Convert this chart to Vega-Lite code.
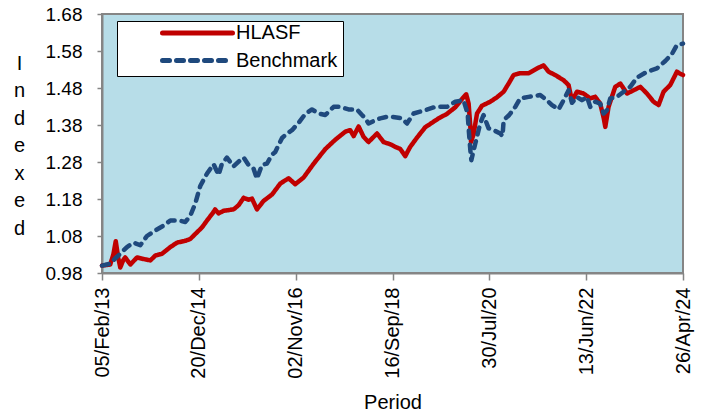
{
  "$schema": "https://vega.github.io/schema/vega-lite/v6.json",
  "width": 581,
  "height": 259,
  "autosize": {"type": "none"},
  "padding": {"left": 102, "top": 14, "right": 23, "bottom": 139},
  "background": "white",
  "config": {
    "font": "Liberation Sans",
    "view": {"fill": "#B7DDE8", "stroke": "#858585", "strokeWidth": 2},
    "axis": {"domainColor": "#858585", "domainWidth": 2, "tickColor": "#858585", "tickWidth": 1.5, "labelColor": "#000000", "titleColor": "#000000", "grid": false, "titleFontWeight": "normal"}
  },
  "data": {
    "values": [
      {"date": "2013-02-05", "series": "HLASF", "value": 1.000},
      {"date": "2013-04-04", "series": "HLASF", "value": 1.003},
      {"date": "2013-04-26", "series": "HLASF", "value": 1.030},
      {"date": "2013-05-13", "series": "HLASF", "value": 1.066},
      {"date": "2013-05-31", "series": "HLASF", "value": 1.020},
      {"date": "2013-06-14", "series": "HLASF", "value": 0.995},
      {"date": "2013-07-05", "series": "HLASF", "value": 1.015},
      {"date": "2013-07-19", "series": "HLASF", "value": 1.022},
      {"date": "2013-08-24", "series": "HLASF", "value": 1.003},
      {"date": "2013-10-10", "series": "HLASF", "value": 1.022},
      {"date": "2013-11-23", "series": "HLASF", "value": 1.018},
      {"date": "2014-01-12", "series": "HLASF", "value": 1.014},
      {"date": "2014-02-16", "series": "HLASF", "value": 1.027},
      {"date": "2014-04-04", "series": "HLASF", "value": 1.032},
      {"date": "2014-06-02", "series": "HLASF", "value": 1.050},
      {"date": "2014-07-19", "series": "HLASF", "value": 1.062},
      {"date": "2014-09-16", "series": "HLASF", "value": 1.067},
      {"date": "2014-10-21", "series": "HLASF", "value": 1.072},
      {"date": "2014-12-07", "series": "HLASF", "value": 1.090},
      {"date": "2015-01-11", "series": "HLASF", "value": 1.103},
      {"date": "2015-02-16", "series": "HLASF", "value": 1.122},
      {"date": "2015-04-03", "series": "HLASF", "value": 1.145},
      {"date": "2015-04-14", "series": "HLASF", "value": 1.152},
      {"date": "2015-05-08", "series": "HLASF", "value": 1.141},
      {"date": "2015-06-12", "series": "HLASF", "value": 1.148},
      {"date": "2015-08-22", "series": "HLASF", "value": 1.152},
      {"date": "2015-09-26", "series": "HLASF", "value": 1.163},
      {"date": "2015-11-01", "series": "HLASF", "value": 1.183},
      {"date": "2015-12-06", "series": "HLASF", "value": 1.178},
      {"date": "2015-12-30", "series": "HLASF", "value": 1.181},
      {"date": "2016-02-03", "series": "HLASF", "value": 1.152},
      {"date": "2016-03-21", "series": "HLASF", "value": 1.175},
      {"date": "2016-05-19", "series": "HLASF", "value": 1.192},
      {"date": "2016-07-17", "series": "HLASF", "value": 1.222},
      {"date": "2016-09-13", "series": "HLASF", "value": 1.236},
      {"date": "2016-10-30", "series": "HLASF", "value": 1.220},
      {"date": "2016-12-28", "series": "HLASF", "value": 1.238},
      {"date": "2017-03-08", "series": "HLASF", "value": 1.275},
      {"date": "2017-05-30", "series": "HLASF", "value": 1.315},
      {"date": "2017-08-08", "series": "HLASF", "value": 1.340},
      {"date": "2017-10-18", "series": "HLASF", "value": 1.362},
      {"date": "2017-11-22", "series": "HLASF", "value": 1.366},
      {"date": "2017-12-16", "series": "HLASF", "value": 1.350},
      {"date": "2018-01-20", "series": "HLASF", "value": 1.376},
      {"date": "2018-02-24", "series": "HLASF", "value": 1.348},
      {"date": "2018-03-31", "series": "HLASF", "value": 1.334},
      {"date": "2018-05-30", "series": "HLASF", "value": 1.357},
      {"date": "2018-07-15", "series": "HLASF", "value": 1.334},
      {"date": "2018-08-31", "series": "HLASF", "value": 1.328},
      {"date": "2018-10-06", "series": "HLASF", "value": 1.321},
      {"date": "2018-11-10", "series": "HLASF", "value": 1.315},
      {"date": "2018-12-15", "series": "HLASF", "value": 1.296},
      {"date": "2019-01-19", "series": "HLASF", "value": 1.321},
      {"date": "2019-03-08", "series": "HLASF", "value": 1.346},
      {"date": "2019-05-05", "series": "HLASF", "value": 1.374},
      {"date": "2019-07-03", "series": "HLASF", "value": 1.389},
      {"date": "2019-08-07", "series": "HLASF", "value": 1.398},
      {"date": "2019-10-05", "series": "HLASF", "value": 1.410},
      {"date": "2019-12-03", "series": "HLASF", "value": 1.428},
      {"date": "2020-01-19", "series": "HLASF", "value": 1.450},
      {"date": "2020-02-18", "series": "HLASF", "value": 1.463},
      {"date": "2020-03-06", "series": "HLASF", "value": 1.438},
      {"date": "2020-03-18", "series": "HLASF", "value": 1.375},
      {"date": "2020-03-23", "series": "HLASF", "value": 1.334},
      {"date": "2020-04-10", "series": "HLASF", "value": 1.355},
      {"date": "2020-05-04", "series": "HLASF", "value": 1.411},
      {"date": "2020-06-08", "series": "HLASF", "value": 1.432},
      {"date": "2020-08-06", "series": "HLASF", "value": 1.443},
      {"date": "2020-09-22", "series": "HLASF", "value": 1.455},
      {"date": "2020-11-08", "series": "HLASF", "value": 1.470},
      {"date": "2020-12-13", "series": "HLASF", "value": 1.492},
      {"date": "2021-01-17", "series": "HLASF", "value": 1.515},
      {"date": "2021-03-05", "series": "HLASF", "value": 1.520},
      {"date": "2021-05-03", "series": "HLASF", "value": 1.520},
      {"date": "2021-07-12", "series": "HLASF", "value": 1.535},
      {"date": "2021-08-17", "series": "HLASF", "value": 1.541},
      {"date": "2021-09-21", "series": "HLASF", "value": 1.524},
      {"date": "2021-11-07", "series": "HLASF", "value": 1.515},
      {"date": "2022-01-05", "series": "HLASF", "value": 1.501},
      {"date": "2022-02-09", "series": "HLASF", "value": 1.488},
      {"date": "2022-03-05", "series": "HLASF", "value": 1.445},
      {"date": "2022-04-09", "series": "HLASF", "value": 1.470},
      {"date": "2022-05-26", "series": "HLASF", "value": 1.465},
      {"date": "2022-07-12", "series": "HLASF", "value": 1.452},
      {"date": "2022-08-16", "series": "HLASF", "value": 1.456},
      {"date": "2022-09-20", "series": "HLASF", "value": 1.438},
      {"date": "2022-10-14", "series": "HLASF", "value": 1.400},
      {"date": "2022-10-26", "series": "HLASF", "value": 1.375},
      {"date": "2022-11-18", "series": "HLASF", "value": 1.429},
      {"date": "2023-01-04", "series": "HLASF", "value": 1.483},
      {"date": "2023-02-09", "series": "HLASF", "value": 1.492},
      {"date": "2023-03-28", "series": "HLASF", "value": 1.465},
      {"date": "2023-05-14", "series": "HLASF", "value": 1.474},
      {"date": "2023-06-30", "series": "HLASF", "value": 1.483},
      {"date": "2023-08-16", "series": "HLASF", "value": 1.465},
      {"date": "2023-10-01", "series": "HLASF", "value": 1.443},
      {"date": "2023-11-06", "series": "HLASF", "value": 1.434},
      {"date": "2023-12-11", "series": "HLASF", "value": 1.470},
      {"date": "2024-01-27", "series": "HLASF", "value": 1.488},
      {"date": "2024-03-14", "series": "HLASF", "value": 1.524},
      {"date": "2024-03-30", "series": "HLASF", "value": 1.520},
      {"date": "2024-04-26", "series": "HLASF", "value": 1.515},
      {"date": "2013-02-05", "series": "Benchmark", "value": 1.000},
      {"date": "2013-04-04", "series": "Benchmark", "value": 1.005},
      {"date": "2013-05-10", "series": "Benchmark", "value": 1.020},
      {"date": "2013-06-14", "series": "Benchmark", "value": 1.032},
      {"date": "2013-07-31", "series": "Benchmark", "value": 1.050},
      {"date": "2013-09-16", "series": "Benchmark", "value": 1.062},
      {"date": "2013-11-02", "series": "Benchmark", "value": 1.055},
      {"date": "2013-12-19", "series": "Benchmark", "value": 1.080},
      {"date": "2014-02-16", "series": "Benchmark", "value": 1.095},
      {"date": "2014-04-15", "series": "Benchmark", "value": 1.108},
      {"date": "2014-06-02", "series": "Benchmark", "value": 1.122},
      {"date": "2014-07-30", "series": "Benchmark", "value": 1.122},
      {"date": "2014-09-16", "series": "Benchmark", "value": 1.118},
      {"date": "2014-10-21", "series": "Benchmark", "value": 1.135},
      {"date": "2014-11-25", "series": "Benchmark", "value": 1.168},
      {"date": "2014-12-30", "series": "Benchmark", "value": 1.215},
      {"date": "2015-02-16", "series": "Benchmark", "value": 1.249},
      {"date": "2015-04-03", "series": "Benchmark", "value": 1.274},
      {"date": "2015-05-08", "series": "Benchmark", "value": 1.245},
      {"date": "2015-05-31", "series": "Benchmark", "value": 1.274},
      {"date": "2015-07-06", "series": "Benchmark", "value": 1.292},
      {"date": "2015-08-22", "series": "Benchmark", "value": 1.268},
      {"date": "2015-10-08", "series": "Benchmark", "value": 1.285},
      {"date": "2015-11-01", "series": "Benchmark", "value": 1.292},
      {"date": "2015-12-06", "series": "Benchmark", "value": 1.272},
      {"date": "2016-01-10", "series": "Benchmark", "value": 1.262},
      {"date": "2016-02-03", "series": "Benchmark", "value": 1.235},
      {"date": "2016-03-09", "series": "Benchmark", "value": 1.272},
      {"date": "2016-04-14", "series": "Benchmark", "value": 1.276},
      {"date": "2016-05-19", "series": "Benchmark", "value": 1.300},
      {"date": "2016-06-11", "series": "Benchmark", "value": 1.307},
      {"date": "2016-07-29", "series": "Benchmark", "value": 1.345},
      {"date": "2016-09-02", "series": "Benchmark", "value": 1.357},
      {"date": "2016-10-07", "series": "Benchmark", "value": 1.366},
      {"date": "2016-11-23", "series": "Benchmark", "value": 1.386},
      {"date": "2017-01-09", "series": "Benchmark", "value": 1.410},
      {"date": "2017-02-25", "series": "Benchmark", "value": 1.422},
      {"date": "2017-04-13", "series": "Benchmark", "value": 1.411},
      {"date": "2017-05-30", "series": "Benchmark", "value": 1.407},
      {"date": "2017-07-28", "series": "Benchmark", "value": 1.429},
      {"date": "2017-09-13", "series": "Benchmark", "value": 1.429},
      {"date": "2017-11-10", "series": "Benchmark", "value": 1.422},
      {"date": "2018-01-08", "series": "Benchmark", "value": 1.422},
      {"date": "2018-02-13", "series": "Benchmark", "value": 1.407},
      {"date": "2018-03-08", "series": "Benchmark", "value": 1.398},
      {"date": "2018-03-31", "series": "Benchmark", "value": 1.384},
      {"date": "2018-05-18", "series": "Benchmark", "value": 1.393},
      {"date": "2018-06-22", "series": "Benchmark", "value": 1.398},
      {"date": "2018-08-08", "series": "Benchmark", "value": 1.402},
      {"date": "2018-09-12", "series": "Benchmark", "value": 1.402},
      {"date": "2018-11-22", "series": "Benchmark", "value": 1.398},
      {"date": "2018-12-27", "series": "Benchmark", "value": 1.384},
      {"date": "2019-02-12", "series": "Benchmark", "value": 1.411},
      {"date": "2019-05-05", "series": "Benchmark", "value": 1.420},
      {"date": "2019-07-15", "series": "Benchmark", "value": 1.429},
      {"date": "2019-10-05", "series": "Benchmark", "value": 1.429},
      {"date": "2019-12-03", "series": "Benchmark", "value": 1.443},
      {"date": "2020-01-30", "series": "Benchmark", "value": 1.447},
      {"date": "2020-02-28", "series": "Benchmark", "value": 1.411},
      {"date": "2020-03-06", "series": "Benchmark", "value": 1.371},
      {"date": "2020-03-18", "series": "Benchmark", "value": 1.312},
      {"date": "2020-03-25", "series": "Benchmark", "value": 1.285},
      {"date": "2020-04-22", "series": "Benchmark", "value": 1.330},
      {"date": "2020-05-27", "series": "Benchmark", "value": 1.384},
      {"date": "2020-06-19", "series": "Benchmark", "value": 1.407},
      {"date": "2020-07-25", "series": "Benchmark", "value": 1.371},
      {"date": "2020-08-29", "series": "Benchmark", "value": 1.366},
      {"date": "2020-10-15", "series": "Benchmark", "value": 1.357},
      {"date": "2020-10-31", "series": "Benchmark", "value": 1.350},
      {"date": "2020-11-08", "series": "Benchmark", "value": 1.393},
      {"date": "2020-12-17", "series": "Benchmark", "value": 1.407},
      {"date": "2021-01-29", "series": "Benchmark", "value": 1.429},
      {"date": "2021-03-05", "series": "Benchmark", "value": 1.452},
      {"date": "2021-05-03", "series": "Benchmark", "value": 1.456},
      {"date": "2021-07-24", "series": "Benchmark", "value": 1.461},
      {"date": "2021-09-09", "series": "Benchmark", "value": 1.447},
      {"date": "2021-10-15", "series": "Benchmark", "value": 1.434},
      {"date": "2021-11-30", "series": "Benchmark", "value": 1.422},
      {"date": "2022-01-05", "series": "Benchmark", "value": 1.447},
      {"date": "2022-02-09", "series": "Benchmark", "value": 1.474},
      {"date": "2022-03-05", "series": "Benchmark", "value": 1.440},
      {"date": "2022-04-09", "series": "Benchmark", "value": 1.456},
      {"date": "2022-05-14", "series": "Benchmark", "value": 1.447},
      {"date": "2022-06-19", "series": "Benchmark", "value": 1.456},
      {"date": "2022-07-12", "series": "Benchmark", "value": 1.429},
      {"date": "2022-08-16", "series": "Benchmark", "value": 1.443},
      {"date": "2022-09-20", "series": "Benchmark", "value": 1.438},
      {"date": "2022-10-14", "series": "Benchmark", "value": 1.411},
      {"date": "2022-11-07", "series": "Benchmark", "value": 1.420},
      {"date": "2022-11-30", "series": "Benchmark", "value": 1.452},
      {"date": "2023-01-16", "series": "Benchmark", "value": 1.456},
      {"date": "2023-03-04", "series": "Benchmark", "value": 1.470},
      {"date": "2023-04-20", "series": "Benchmark", "value": 1.483},
      {"date": "2023-06-06", "series": "Benchmark", "value": 1.508},
      {"date": "2023-08-16", "series": "Benchmark", "value": 1.524},
      {"date": "2023-10-25", "series": "Benchmark", "value": 1.533},
      {"date": "2023-12-23", "series": "Benchmark", "value": 1.553},
      {"date": "2024-02-08", "series": "Benchmark", "value": 1.572},
      {"date": "2024-03-14", "series": "Benchmark", "value": 1.596},
      {"date": "2024-04-26", "series": "Benchmark", "value": 1.600}
    ]
  },
  "mark": {"type": "line", "strokeWidth": 4.5, "strokeCap": "round", "strokeJoin": "round"},
  "encoding": {
    "x": {
      "field": "date",
      "type": "temporal",
      "scale": {
        "type": "utc",
        "domain": [{"year": 2013, "month": 2, "date": 5, "utc": true}, {"year": 2024, "month": 4, "date": 26, "utc": true}]
      },
      "axis": {
        "title": "Period",
        "titleFontSize": 20,
        "titleY": 135,
        "titleBaseline": "alphabetic",
        "values": [
          {"year": 2013, "month": 2, "date": 5, "utc": true},
          {"year": 2014, "month": 12, "date": 20, "utc": true},
          {"year": 2016, "month": 11, "date": 2, "utc": true},
          {"year": 2018, "month": 9, "date": 16, "utc": true},
          {"year": 2020, "month": 7, "date": 30, "utc": true},
          {"year": 2022, "month": 6, "date": 13, "utc": true},
          {"year": 2024, "month": 4, "date": 26, "utc": true}
        ],
        "format": "%d/%b/%y",
        "labelAngle": 270,
        "labelFontSize": 20,
        "labelPadding": 7,
        "tickSize": 7,
        "labelOverlap": false,
        "labelFlush": false
      }
    },
    "y": {
      "field": "value",
      "type": "quantitative",
      "scale": {"domain": [0.98, 1.68], "zero": false, "nice": false},
      "axis": {
        "title": ["I", "n", "d", "e", "x", "e", "d"],
        "titleAngle": 0,
        "titleFontSize": 20,
        "titleLineHeight": 27.5,
        "titleX": -83,
        "titleY": 49,
        "titleAlign": "center",
        "titleBaseline": "middle",
        "values": [0.98, 1.08, 1.18, 1.28, 1.38, 1.48, 1.58, 1.68],
        "format": ".2f",
        "labelFontSize": 19,
        "labelPadding": 15,
        "tickSize": 5,
        "labelOverlap": false,
        "labelFlush": false
      }
    },
    "color": {
      "field": "series",
      "type": "nominal",
      "scale": {"domain": ["HLASF", "Benchmark"], "range": ["#C00000", "#1F497D"]},
      "legend": {
        "title": null,
        "orient": "none",
        "legendX": 15,
        "legendY": 7,
        "symbolType": "stroke",
        "symbolSize": 4900,
        "symbolStrokeWidth": 5,
        "clipHeight": 14,
        "rowPadding": 7.5,
        "padding": 5,
        "symbolOffset": 38,
        "labelOffset": 1,
        "labelFontSize": 20,
        "labelColor": "#000000",
        "fillColor": "#FFFFFF",
        "strokeColor": "#000000",
        "encode": {"symbols": {"update": {"strokeCap": {"value": "round"}}}}
      }
    },
    "strokeDash": {
      "field": "series",
      "type": "nominal",
      "scale": {"domain": ["HLASF", "Benchmark"], "range": [[1, 0], [7, 7]]},
      "legend": null
    }
  }
}
